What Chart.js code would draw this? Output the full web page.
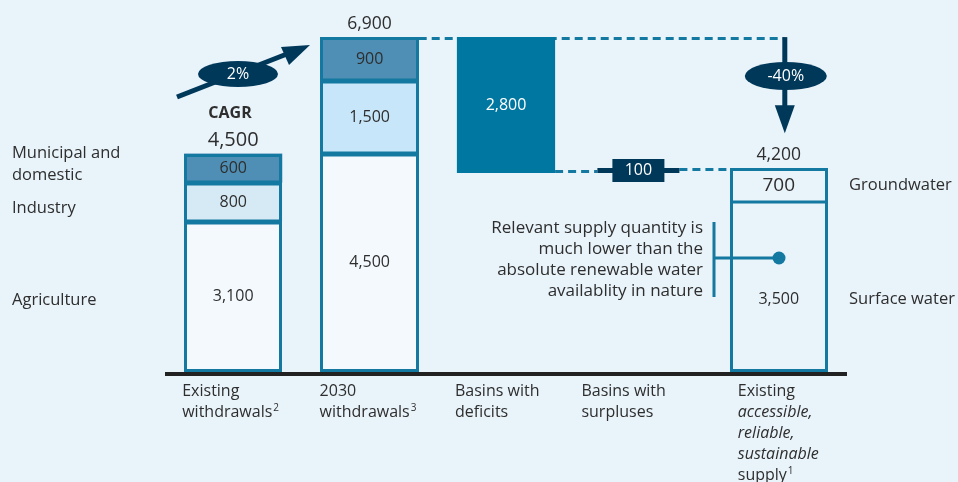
<!DOCTYPE html>
<html><head><meta charset="utf-8">
<script src="https://cdn.jsdelivr.net/npm/chart.js@4.4.1/dist/chart.umd.min.js"></script>
<style>html,body{margin:0;padding:0;background:#e8f3fa;overflow:hidden}</style>
</head><body>
<canvas id="c" width="958" height="482"></canvas>
<script>
// ---- data ----
const categories = ["Existing withdrawals", "2030 withdrawals", "Basins with deficits", "Basins with surpluses", "Existing supply"];
const categoryLines = [
  ["Existing", "withdrawals^2"],
  ["2030", "withdrawals^3"],
  ["Basins with", "deficits"],
  ["Basins with", "surpluses"],
  ["Existing", "_accessible,", "_reliable,", "_sustainable", "supply^1"]
];
const agricultureSurface = [3100, 4500, null, null, 3500];   // Agriculture / Surface water
const industryGround     = [800, 1500, null, null, 700];     // Industry / Groundwater
const municipal          = [600, 900, null, null, null];     // Municipal and domestic
const deficitValue  = 2800;
const surplusValue  = 100;
const cagrLabel = "2%";
const gapLabel  = "-40%";
const leftLabels  = [["Municipal and", "domestic"], ["Industry"], ["Agriculture"]];
const rightLabels = ["Groundwater", "Surface water"];
const noteLines = ["Relevant supply quantity is", "much lower than the", "absolute renewable water", "availablity in nature"];

// derived
const totals = agricultureSurface.map((v, i) => (v || 0) + (industryGround[i] || 0) + (municipal[i] || 0));
const deficitBase = [null, null, totals[1] - deficitValue, null, null];
const deficit = [null, null, deficitValue, null, null];

const BG = '#e8f3fa', TEAL = '#1479a0', NAVY = '#00385a', TXT = '#2e2e2e';
const FONT = '"Open Sans", sans-serif';
const fmt = v => v.toLocaleString('en-US');

const overlay = {
  id: 'overlay',
  beforeDraw(chart) {
    const c = chart.ctx; c.save(); c.fillStyle = BG; c.fillRect(0, 0, chart.width, chart.height); c.restore();
  },
  beforeDatasetsDraw(chart) {
    const c = chart.ctx, xs = chart.scales.x, ys = chart.scales.y;
    const b2 = chart.getDatasetMeta(2).data[1];
    const yTop = Math.round(ys.getPixelForValue(totals[1]));
    const xArrow = xs.getPixelForValue(4) + 6;
    c.save();
    c.strokeStyle = TEAL; c.lineWidth = 3; c.setLineDash([8, 5]);
    c.beginPath(); c.moveTo(b2.x + b2.width / 2, yTop + 1.5); c.lineTo(xArrow, yTop + 1.5); c.stroke();
    c.restore();
  },
  afterDatasetsDraw(chart) {
    const c = chart.ctx, xs = chart.scales.x, ys = chart.scales.y;
    const ca = chart.chartArea;
    c.save();
    // bar outlines (outer 3px, separators)
    c.fillStyle = TEAL;
    [0, 1, 4].forEach(i => {
      const segs = [0, 1, 2].map(d => chart.getDatasetMeta(d).data[i]).filter((el, d) => chart.data.datasets[d].data[i] != null);
      const first = segs[0], last = segs[segs.length - 1];
      const L = Math.round(first.x - first.width / 2), R = Math.round(first.x + first.width / 2);
      const T = Math.round(last.y), B = Math.round(first.base);
      c.fillRect(L, T, R - L, 3); c.fillRect(L, B - 3, R - L, 3);
      c.fillRect(L, T, 3, B - T); c.fillRect(R - 3, T, 3, B - T);
      const sw = i === 4 ? 3 : 5;
      segs.slice(0, -1).forEach(el => { const yb = Math.round(el.y); c.fillRect(L, yb - sw / 2, R - L, sw); });
    });
    // axis line
    c.fillStyle = '#222'; c.fillRect(ca.left, Math.round(ca.bottom), ca.right - ca.left, 4);

    // segment labels
    c.textAlign = 'center'; c.textBaseline = 'middle';
    c.fillStyle = TXT;
    [0, 1, 2].forEach(d => {
      const ds = chart.data.datasets[d];
      chart.getDatasetMeta(d).data.forEach((el, i) => {
        const v = ds.data[i]; if (v == null) return;
        let cy = (el.y + el.base) / 2;
        if (i === 4 && d === 0) cy += 12;
        c.font = (i === 4 && d === 1 ? '19px ' : '16px ') + FONT;
        c.fillText(fmt(v), el.x, cy);
      });
    });
    // deficit label
    const de = chart.getDatasetMeta(4).data[2];
    c.fillStyle = '#ffffff'; c.font = '16px ' + FONT;
    c.fillText(fmt(deficitValue), de.x, (de.y + de.base) / 2);

    // totals
    c.fillStyle = TXT; c.textBaseline = 'alphabetic';
    [0, 1, 4].forEach(i => {
      c.font = (i === 0 ? '20px ' : '17.5px ') + FONT;
      c.fillText(fmt(totals[i]), xs.getPixelForValue(i), ys.getPixelForValue(totals[i]) - 8);
    });

    // left labels aligned with first bar segments
    c.textAlign = 'left'; c.textBaseline = 'middle'; c.font = '16.5px ' + FONT;
    const segY = d => { const el = chart.getDatasetMeta(d).data[0]; return (el.y + el.base) / 2; };
    const lp = [segY(2) - 4, segY(1) + 6, segY(0) + 4];
    leftLabels.forEach((lines, k) => {
      lines.forEach((t, j) => c.fillText(t, 12, lp[k] + (j - (lines.length - 1) / 2) * 22));
    });
    // right labels aligned with last bar
    const g = chart.getDatasetMeta(1).data[4], s = chart.getDatasetMeta(0).data[4];
    c.fillText(rightLabels[0], 849, (g.y + g.base) / 2);
    c.fillText(rightLabels[1], 849, (s.y + s.base) / 2 + 12);

    // x labels
    c.textBaseline = 'alphabetic';
    const offs = [-51, -50, -51, -61, -41];
    categoryLines.forEach((lines, i) => {
      const x0 = xs.getPixelForValue(i) + offs[i];
      lines.forEach((raw, j) => {
        let t = raw, italic = false, sup = null;
        if (t.startsWith('_')) { italic = true; t = t.slice(1); }
        const k = t.indexOf('^'); if (k >= 0) { sup = t.slice(k + 1); t = t.slice(0, k); }
        const y = 396 + j * 21;
        c.font = (italic ? 'italic ' : '') + '16px ' + FONT;
        c.fillText(t, x0, y);
        if (sup) { const w = c.measureText(t).width; c.font = '10px ' + FONT; c.fillText(sup, x0 + w + 1, y - 6); }
      });
    });

    // CAGR arrow
    c.strokeStyle = NAVY; c.fillStyle = NAVY; c.lineWidth = 5; c.setLineDash([]);
    c.beginPath(); c.moveTo(177, 97); c.lineTo(292, 52); c.stroke();
    c.beginPath(); c.moveTo(310, 45); c.lineTo(281, 47); c.lineTo(289, 65); c.closePath(); c.fill();
    c.beginPath(); c.ellipse(238, 74, 40, 13, 0, 0, Math.PI * 2); c.fill();
    c.fillStyle = '#fff'; c.textAlign = 'center'; c.textBaseline = 'middle'; c.font = '16px ' + FONT;
    c.fillText(cagrLabel, 238, 74);
    c.fillStyle = TXT; c.font = 'bold 16px ' + FONT; c.fillText('CAGR', 230, 113);

    // -40% arrow
    const xa = xs.getPixelForValue(4) + 6;
    const yTop = ys.getPixelForValue(totals[1]);
    const yTip = ys.getPixelForValue(totals[4]) - 35;
    c.fillStyle = NAVY; c.fillRect(xa - 2.5, yTop, 5, yTip - yTop - 20);
    c.beginPath(); c.moveTo(xa - 10, yTip - 28); c.lineTo(xa + 10, yTip - 28); c.lineTo(xa, yTip); c.closePath(); c.fill();
    c.beginPath(); c.ellipse(xa + 1, 76, 41, 14, 0, 0, Math.PI * 2); c.fill();
    c.fillStyle = '#fff'; c.font = '16px ' + FONT; c.fillText(gapLabel, xa + 1, 76);

    // surplus line and box
    const y1 = Math.round(ys.getPixelForValue(deficitBase[2])) - 1.5;
    const y2 = Math.round(ys.getPixelForValue(totals[4])) + 1.5;
    const ym = (y1 + y2) / 2;
    const xb = xs.getPixelForValue(3) - 4;
    const b5 = chart.getDatasetMeta(1).data[4];
    c.strokeStyle = TEAL; c.lineWidth = 3; c.setLineDash([8, 5]);
    c.beginPath(); c.moveTo(de.x + de.width / 2, y1); c.lineTo(xb - 41, y1); c.stroke();
    c.beginPath(); c.moveTo(xb + 41, y2); c.lineTo(b5.x - b5.width / 2, y2); c.stroke();
    c.setLineDash([]);
    c.fillStyle = NAVY;
    c.fillRect(xb - 41, ym - 2.5, 82, 5);
    c.fillRect(xb - 26, ym - 11.5, 52, 23);
    c.fillStyle = '#fff'; c.fillText(fmt(surplusValue), xb, ym);

    // note bracket
    c.fillStyle = TXT; c.textAlign = 'right'; c.textBaseline = 'alphabetic'; c.font = '17px ' + FONT;
    noteLines.forEach((t, j) => c.fillText(t, 703, 233 + j * 21));
    c.strokeStyle = TEAL; c.lineWidth = 3;
    c.beginPath(); c.moveTo(714, 222); c.lineTo(714, 297); c.moveTo(714, 258); c.lineTo(779, 258); c.stroke();
    c.fillStyle = TEAL; c.beginPath(); c.arc(779, 258, 6.5, 0, Math.PI * 2); c.fill();
    c.restore();
  }
};

new Chart(document.getElementById('c'), {
  type: 'bar',
  data: {
    labels: categories,
    datasets: [
      { label: 'Agriculture / Surface water', data: agricultureSurface,
        backgroundColor: ['#f3f9fd', '#f3f9fd', BG, BG, BG], borderWidth: 0 },
      { label: 'Industry / Groundwater', data: industryGround,
        backgroundColor: ['#d6eaf6', '#c8e6f9', BG, BG, BG], borderWidth: 0 },
      { label: 'Municipal and domestic', data: municipal,
        backgroundColor: '#4f8fb5', borderWidth: 0 },
      { label: 'base', data: deficitBase, backgroundColor: 'rgba(0,0,0,0)', borderWidth: 0 },
      { label: 'Deficit', data: deficit, backgroundColor: '#0077a1', borderWidth: 0 }
    ]
  },
  options: {
    responsive: false, animation: false,
    layout: { padding: { left: 165, right: 111, top: 8, bottom: 110 } },
    datasets: { bar: { barPercentage: 0.72, categoryPercentage: 1.0, inflateAmount: 0 } },
    plugins: { legend: { display: false }, tooltip: { enabled: false } },
    scales: {
      x: { display: false, stacked: true },
      y: { display: false, stacked: true, min: 0, max: 7500 }
    }
  },
  plugins: [overlay]
});
</script>
</body></html>
